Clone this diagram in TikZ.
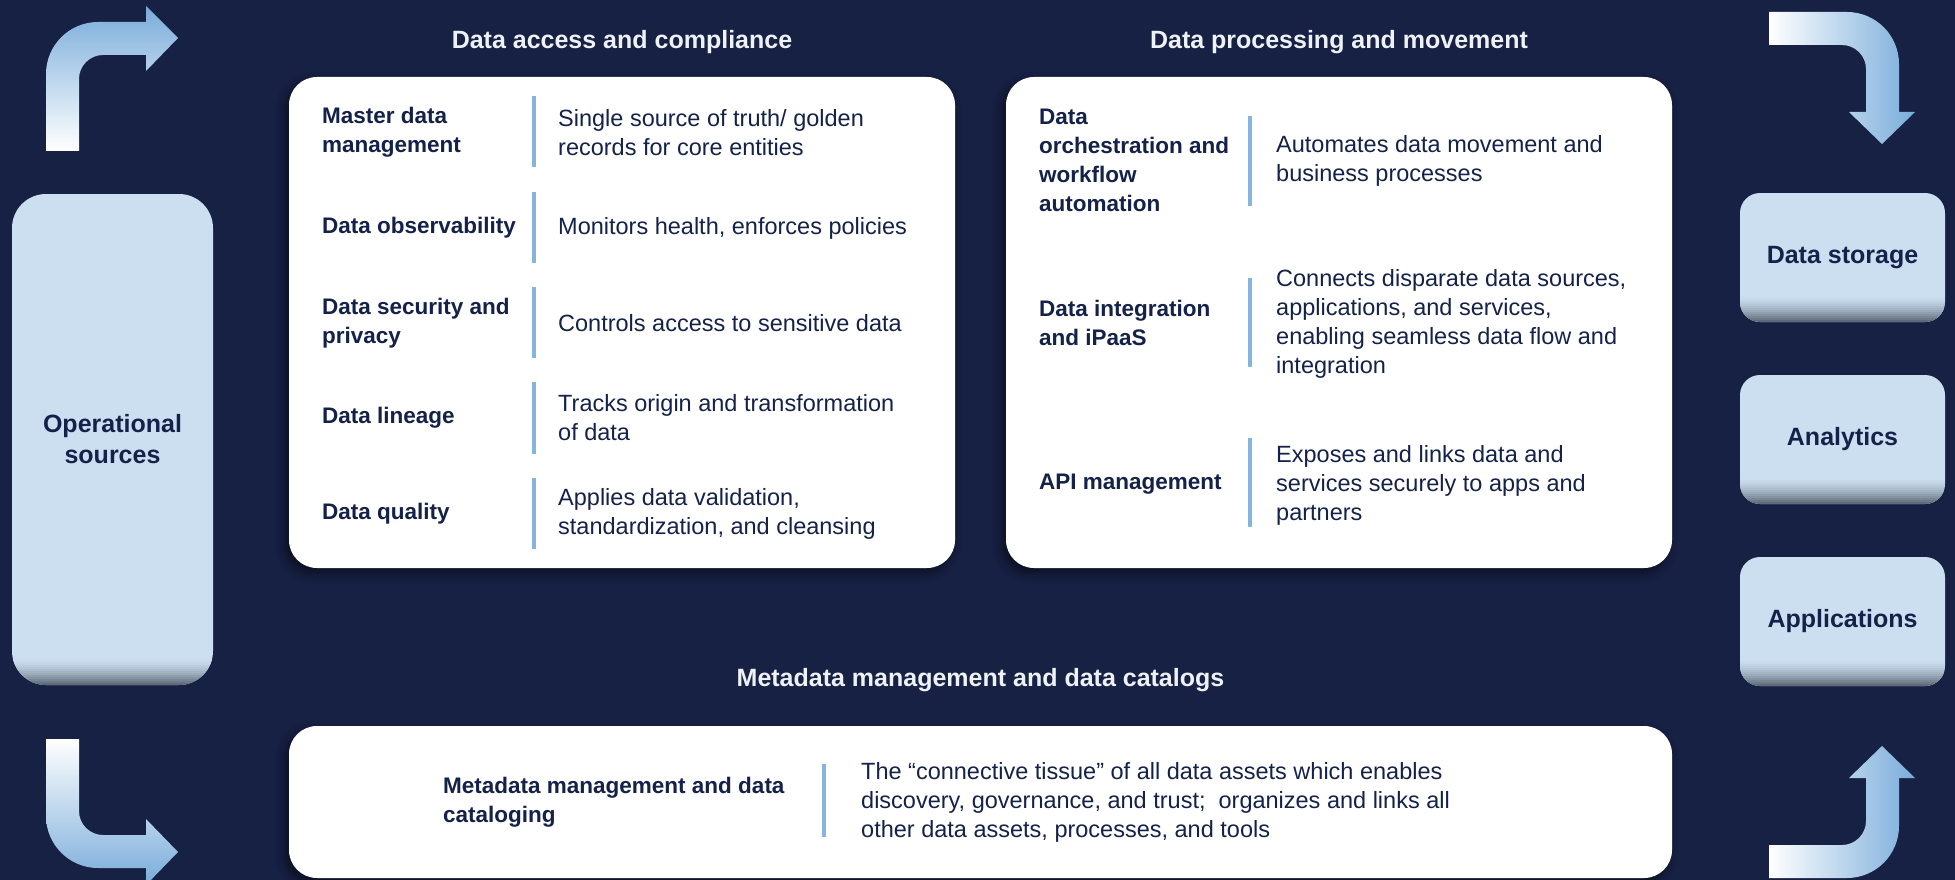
\documentclass[tikz,border=0pt]{standalone}
\usepackage{fontspec}
\setmainfont{Liberation Sans}
\usetikzlibrary{shadows.blur}
\definecolor{bgnavy}{HTML}{172144}
\definecolor{txtnavy}{HTML}{14224A}
\definecolor{titlewhite}{HTML}{EEF1F6}
\definecolor{sepblue}{HTML}{86B4DF}
\definecolor{sidefill}{HTML}{CCDFF0}
\definecolor{bevelgray}{HTML}{5F6B78}
\definecolor{arrowblue}{HTML}{79ACDA}
\tikzset{
  panel/.style={fill=white,rounded corners=28pt,inner sep=0pt,
    blur shadow={shadow xshift=-4pt,shadow yshift=-5pt,shadow blur radius=10pt,shadow opacity=55}},
  paneltitle/.style={anchor=base,text=titlewhite,font=\fontsize{25}{30}\selectfont\bfseries},
  lbl/.style={anchor=west,align=left,inner sep=0pt,text=txtnavy,font=\fontsize{22.5}{29}\selectfont\bfseries},
  desc/.style={anchor=west,align=left,inner sep=0pt,text=txtnavy,font=\fontsize{23.5}{29}\selectfont},
  sepline/.style={draw=sepblue,line width=4pt},
  sidebox/.style={fill=sidefill,rounded corners=20pt,inner sep=0pt,align=center,text=txtnavy,
    font=\fontsize{25}{31}\selectfont\bfseries,
    path picture={\foreach \i [evaluate=\i as \p using {int(100*(\i/13)^1.6)}] in {1,...,13}
      \fill[sharp corners,bevelgray!\p!sidefill]
        ([yshift={(26-2*\i)*1pt}]path picture bounding box.south west)
        rectangle ([yshift={(28.5-2*\i)*1pt}]path picture bounding box.south east);}}
}
\begin{document}
\begin{tikzpicture}[x=1pt,y=-1pt]
\useasboundingbox (0,0) rectangle (1955,880);
\fill[bgnavy] (0,0) rectangle (1955,880);

% corner arrows
\shade[top color=arrowblue,bottom color=white]
(46,151) -- (46,74) .. controls (46,45.3) and (69.3,22) .. (98,22) -- (146,22) -- (146,6) -- (178,38)
  -- (146,71) -- (146,55) -- (103,55) .. controls (89.8,55) and (79,65.8) .. (79,79) -- (79,151) -- cycle;
\shade[left color=white,right color=arrowblue]
(1769,12) -- (1847,12) .. controls (1875.7,12) and (1899,35.3) .. (1899,64) -- (1899,112) -- (1915,112)
  -- (1882,144) -- (1849,112) -- (1866,112) -- (1866,69) .. controls (1866,55.8) and (1855.2,45) .. (1842,45) -- (1769,45) -- cycle;
\shade[top color=white,bottom color=arrowblue]
(46,739) -- (46,816) .. controls (46,844.7) and (69.3,868) .. (98,868) -- (146,868) -- (146,885) -- (178,852)
  -- (146,819) -- (146,835) -- (103,835) .. controls (89.8,835) and (79,824.2) .. (79,811) -- (79,739) -- cycle;
\shade[left color=white,right color=arrowblue]
(1769,878) -- (1847,878) .. controls (1875.7,878) and (1899,854.7) .. (1899,826) -- (1899,778) -- (1915,778)
  -- (1882,746) -- (1849,778) -- (1866,778) -- (1866,821) .. controls (1866,834.2) and (1855.2,845) .. (1842,845) -- (1769,845) -- cycle;

% side boxes
\node[sidebox,rounded corners=34pt,minimum width=201pt,minimum height=491pt] (ops) at (112.5,439.5) {Operational\\sources};
\node[sidebox,minimum width=205pt,minimum height=129pt] (storage) at (1842.5,257.5) {Data storage};
\node[sidebox,minimum width=205pt,minimum height=129pt] (analytics) at (1842.5,439.5) {Analytics};
\node[sidebox,minimum width=205pt,minimum height=129pt] (apps) at (1842.5,621.5) {Applications};

% panels
\node[panel,minimum width=666pt,minimum height=491pt] (access) at (622,322.5) {};
\node[panel,minimum width=666pt,minimum height=491pt] (process) at (1339,322.5) {};
\node[panel,minimum width=1383pt,minimum height=152pt] (meta) at (980.5,802) {};

\node[paneltitle] (accesstitle) at (622,49) {Data access and compliance};
\node[paneltitle] (processtitle) at (1339,49) {Data processing and movement};
\node[paneltitle] (metatitle) at (980.5,686) {Metadata management and data catalogs};

% data access and compliance
\node[lbl] (mdm) at (322,132.5) {Master data\\management};
\node[desc] (mdmtxt) at (558,132.5) {Single source of truth/ golden\\records for core entities};
\draw[sepline] (534,96) -- (534,167);
\node[lbl] (obs) at (322,228) {Data observability};
\node[desc] (obstxt) at (558,228) {Monitors health, enforces policies};
\draw[sepline] (534,192) -- (534,263);
\node[lbl] (sec) at (322,323) {Data security and\\privacy};
\node[desc] (sectxt) at (558,323) {Controls access to sensitive data};
\draw[sepline] (534,287) -- (534,358);
\node[lbl] (lin) at (322,418) {Data lineage};
\node[desc] (lintxt) at (558,418) {Tracks origin and transformation\\of data};
\draw[sepline] (534,382) -- (534,454);
\node[lbl] (qual) at (322,513.5) {Data quality};
\node[desc] (qualtxt) at (558,513.5) {Applies data validation,\\standardization, and cleansing};
\draw[sepline] (534,478) -- (534,549);

% data processing and movement
\node[lbl] (orch) at (1039,160.5) {Data\\orchestration and\\workflow\\automation};
\node[desc] (orchtxt) at (1276,161) {Automates data movement and\\business processes};
\draw[sepline] (1250,116) -- (1250,206);
\node[lbl] (integ) at (1039,323) {Data integration\\and iPaaS};
\node[desc] (integtxt) at (1276,323.5) {Connects disparate data sources,\\applications, and services,\\enabling seamless data flow and\\integration};
\draw[sepline] (1250,278) -- (1250,367);
\node[lbl] (api) at (1039,484) {API management};
\node[desc] (apitxt) at (1276,485) {Exposes and links data and\\services securely to apps and\\partners};
\draw[sepline] (1250,438) -- (1250,527);

% metadata
\node[lbl] (catalog) at (443,802.5) {Metadata management and data\\cataloging};
\node[desc] (catalogtxt) at (861,802.5) {The “connective tissue” of all data assets which enables\\discovery, governance, and trust;\ \ organizes and links all\\other data assets, processes, and tools};
\draw[sepline] (824,764) -- (824,837);
\end{tikzpicture}
\end{document}
